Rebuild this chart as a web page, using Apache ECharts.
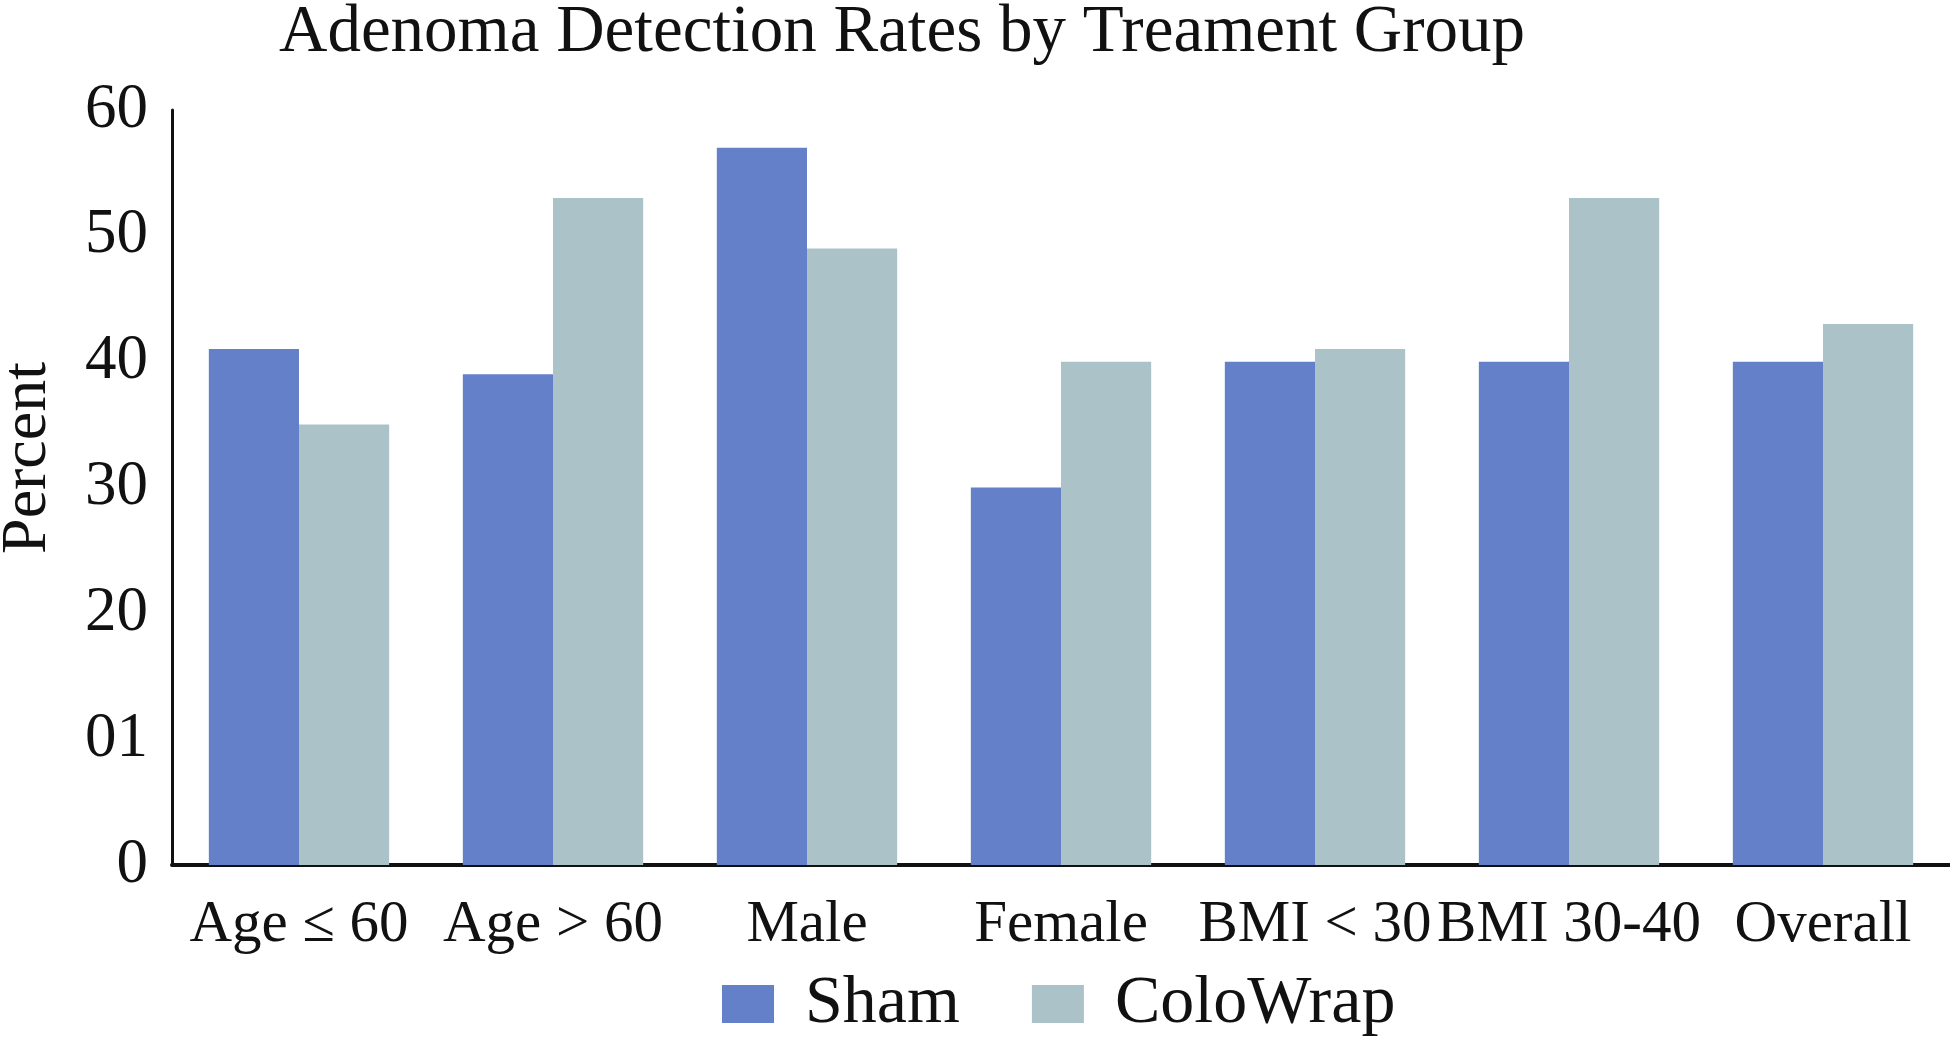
<!DOCTYPE html>
<html>
<head>
<meta charset="utf-8">
<script src="https://cdn.jsdelivr.net/npm/echarts@6/dist/echarts.min.js"></script>
<style>
html,body{margin:0;padding:0;background:#fff;}
#chart{width:1950px;height:1045px;}
</style>
</head>
<body>
<div id="chart"></div>
<script>
var categories = ['Age \u2264 60', 'Age > 60', 'Male', 'Female', 'BMI < 30', 'BMI 30-40', 'Overall'];
var shamValues = [41, 39, 57, 30, 40, 40, 40];
var coloWrapValues = [35, 53, 49, 40, 41, 53, 43];
var yTickLabels = ['0', '01', '20', '30', '40', '50', '60'];
var seriesNames = ['Sham', 'ColoWrap'];

var FONT = '"Liberation Serif", "Times New Roman", serif';
var chart = echarts.init(document.getElementById('chart'), null, {renderer: 'canvas'});
chart.setOption({
  backgroundColor: '#ffffff',
  animation: false,
  title: {
    text: 'Adenoma Detection Rates by Treament Group',
    left: 279,
    top: 0,
    padding: 0,
    textStyle: {fontFamily: FONT, fontSize: 67, fontWeight: 'normal', color: '#111'}
  },
  legend: {
    left: 722,
    top: 970,
    padding: 0,
    itemWidth: 52,
    itemHeight: 38,
    itemGap: 72,
    icon: 'rect',
    textStyle: {fontFamily: FONT, fontSize: 68, color: '#111', padding: [0, 0, 0, 26]},
    data: seriesNames
  },
  grid: {left: 172, right: -14, top: 110, bottom: 180, containLabel: false},
  xAxis: {
    type: 'category',
    data: categories,
    axisLine: {lineStyle: {color: '#111', width: 4}},
    axisTick: {show: false},
    axisLabel: {fontFamily: FONT, fontSize: 59, color: '#111', margin: 31, interval: 0}
  },
  yAxis: {
    type: 'value',
    min: 0,
    max: 60,
    interval: 10,
    splitLine: {show: false},
    axisLine: {show: true, lineStyle: {color: '#111', width: 3}},
    axisTick: {show: false},
    axisLabel: {
      fontFamily: FONT, fontSize: 63, color: '#111', margin: 24,
      formatter: function (v) { return yTickLabels[Math.round(v / 10)]; }
    }
  },
  graphic: [{
    type: 'text',
    x: 28,
    y: 458,
    rotation: Math.PI / 2,
    style: {text: 'Percent', fontFamily: FONT, fontSize: 64, fill: '#111', textAlign: 'center', textVerticalAlign: 'middle'}
  }],
  series: [
    {name: seriesNames[0], type: 'bar', data: shamValues, barGap: '0%', barCategoryGap: '29%',
     itemStyle: {color: '#6380C8'}},
    {name: seriesNames[1], type: 'bar', data: coloWrapValues, barGap: '0%', barCategoryGap: '29%',
     itemStyle: {color: '#AAC2C8'}}
  ]
});
</script>
</body>
</html>
